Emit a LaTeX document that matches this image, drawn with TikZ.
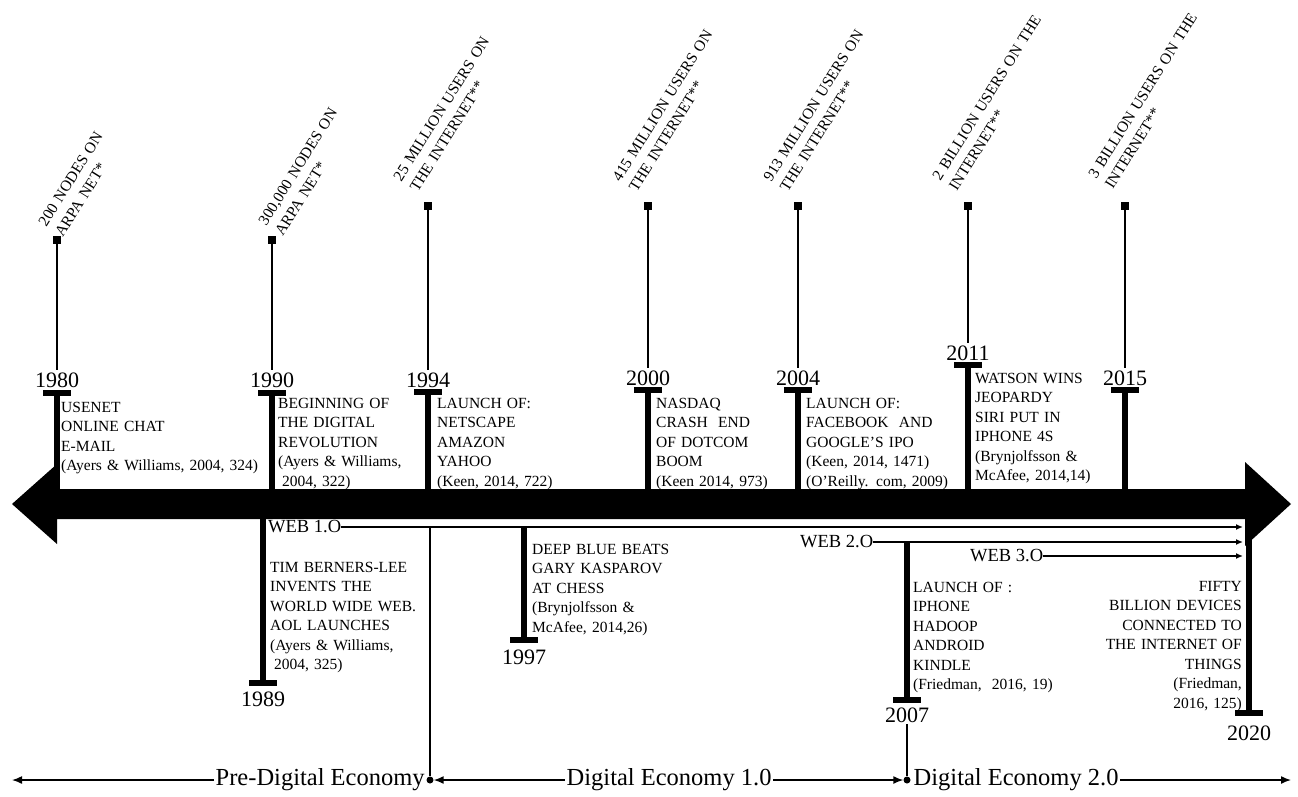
\documentclass[tikz,border=0pt]{standalone}
\usepackage{fontspec}
\setmainfont{Liberation Serif}
\usetikzlibrary{arrows.meta}
\begin{document}
\begin{tikzpicture}[x=1pt,y=-1pt,
  every node/.style={inner sep=0pt},
  desc/.style={font=\fontsize{15.5}{19.5}\selectfont, align=left, text width=270pt, anchor=base west},
  descr/.style={font=\fontsize{15.5}{19.5}\selectfont, align=right, text width=200pt, anchor=base east},
  rotlab/.style={font=\fontsize{15.5}{19.5}\selectfont, align=left, text width=260pt, anchor=south west, rotate=58},
  yr/.style={font=\fontsize{22}{24}\selectfont, inner sep=2pt, anchor=base},
  weblab/.style={font=\fontsize{18.5}{20}\selectfont, anchor=west},
  botlab/.style={font=\fontsize{24.5}{26}\selectfont, anchor=west, inner sep=1.5pt},
  sqmark/.style={rectangle, fill=black, minimum size=8pt},
  capbar/.style={rectangle, fill=black, minimum width=28pt, minimum height=6pt},
  dotmark/.style={circle, fill=black, minimum size=7pt},
  stemline/.style={line width=5.5pt},
  thinline/.style={line width=1.8pt},
  webline/.style={line width=1.4pt, -{Latex[length=7pt,width=6pt]}},
  botline/.style={line width=1.5pt},
]
\fill[white] (0,0) rectangle (1298,796);
\useasboundingbox (0,0) rectangle (1298,796);

% main double arrow
\fill[black] (12,504) -- (57,464) -- (57,489) -- (1245,489) -- (1245,462) -- (1291,504)
  -- (1245,546) -- (1245,519) -- (57,519) -- (57,544) -- cycle;

% top events
\foreach \n/\x/\c/\s/\b in {1980/57/393/240/387, 1990/272/393/240/387, 1994/428/392/206/387,
  2000/648/390/206/385, 2004/798/390/206/385, 2011/968/364.5/206/360, 2015/1125/390/206/385}{
  \coordinate (bar\n) at (\x,504);
  \node[capbar] (cap\n) at (\x,\c) {};
  \draw[stemline] (cap\n.center) -- (bar\n);
  \node[sqmark] (sq\n) at (\x,\s) {};
  \node[yr] (yr\n) at (\x,\b) {\n};
  \draw[thinline] (sq\n) -- (yr\n);
}

% rotated labels
\node[rotlab] (r1980) at (63,238) {200 NODES ON\\ARPA NET*};
\node[rotlab] (r1990) at (283,237) {300,000 NODES ON\\ARPA NET*};
\node[rotlab] (r1994) at (418,193) {25 MILLION USERS ON\\THE INTERNET**};
\node[rotlab] (r2000) at (637,193) {415 MILLION USERS ON\\THE INTERNET**};
\node[rotlab] (r2004) at (788,193) {913 MILLION USERS ON\\THE INTERNET**};
\node[rotlab] (r2011) at (957,192) {2 BILLION USERS ON THE\\INTERNET**};
\node[rotlab] (r2015) at (1113,190) {3 BILLION USERS ON THE\\INTERNET**};

% top descriptions
\node[desc] (d1980) at (61,412) {USENET\\ONLINE CHAT\\E-MAIL\\(Ayers \& Williams, 2004, 324)};
\node[desc] (d1990) at (278,408) {BEGINNING OF\\THE DIGITAL\\REVOLUTION\\(Ayers \& Williams,\\\hspace*{4pt}2004, 322)};
\node[desc] (d1994) at (437,408) {LAUNCH OF:\\NETSCAPE\\AMAZON\\YAHOO\\(Keen, 2014, 722)};
\node[desc] (d2000) at (656,408) {NASDAQ\\CRASH\ \ END\\OF DOTCOM\\BOOM\\(Keen 2014, 973)};
\node[desc] (d2004) at (806,408) {LAUNCH OF:\\FACEBOOK\ \ AND\\GOOGLE'S IPO\\(Keen, 2014, 1471)\\(O'Reilly. com, 2009)};
\node[desc] (d2011) at (975,383) {WATSON WINS\\JEOPARDY\\SIRI PUT IN\\IPHONE 4S\\(Brynjolfsson \&\\McAfee, 2014,14)};

% web lines
\node[weblab] (w1) at (268,527) {WEB 1.O};
\node[weblab] (w2) at (800,542) {WEB 2.O};
\node[weblab] (w3) at (970,556) {WEB 3.O};
\coordinate (w1e) at (1243,527);
\coordinate (w2e) at (1243,542);
\coordinate (w3e) at (1243,556);
\draw[webline] (w1) -- (w1e);
\draw[webline] (w2) -- (w2e);
\draw[webline] (w3) -- (w3e);

% bottom events
\foreach \n/\x/\t/\c/\b in {1989/263/504/683/706, 1997/524/527/640/664, 2007/907/542/700/722, 2020/1249/504/713/740}{
  \coordinate (top\n) at (\x,\t);
  \node[capbar] (cap\n) at (\x,\c) {};
  \draw[stemline] (top\n) -- (cap\n.center);
  \node[yr] (yr\n) at (\x,\b) {\n};
}

\node[desc] (d1989) at (270,572) {TIM BERNERS-LEE\\INVENTS THE\\WORLD WIDE WEB.\\AOL LAUNCHES\\(Ayers \& Williams,\\\hspace*{4pt}2004, 325)};
\node[desc] (d1997) at (532,554) {DEEP BLUE BEATS\\GARY KASPAROV\\AT CHESS\\(Brynjolfsson \&\\McAfee, 2014,26)};
\node[desc] (d2007) at (913,592) {LAUNCH OF :\\IPHONE\\HADOOP\\ANDROID\\KINDLE\\(Friedman,\ \ 2016, 19)};
\node[descr] (d2020) at (1242,591) {FIFTY\\BILLION DEVICES\\CONNECTED TO\\THE INTERNET OF\\THINGS\\(Friedman,\\2016, 125)};

% economy eras
\node[dotmark] (dot1) at (430,780) {};
\node[dotmark] (dot2) at (907,780) {};
\coordinate (w1x) at (430,527);
\draw[thinline] (w1x) -- (dot1);
\draw[thinline] (yr2007) -- (dot2);

\node[botlab] (pre) at (214,780) {Pre-Digital Economy};
\node[botlab] (de1) at (565,780) {Digital Economy 1.0};
\node[botlab] (de2) at (912,780) {Digital Economy 2.0};
\coordinate (lend) at (12,780);
\coordinate (rend) at (1291,780);
\draw[botline, -{Latex[length=10pt,width=8pt]}] (pre) -- (lend);
\draw[botline, {Latex[length=10pt,width=8pt]}-] (dot1) -- (de1);
\draw[botline, -{Latex[length=10pt,width=8pt]}] (de1) -- (dot2);
\draw[botline, -{Latex[length=10pt,width=8pt]}] (de2) -- (rend);
\end{tikzpicture}
\end{document}
